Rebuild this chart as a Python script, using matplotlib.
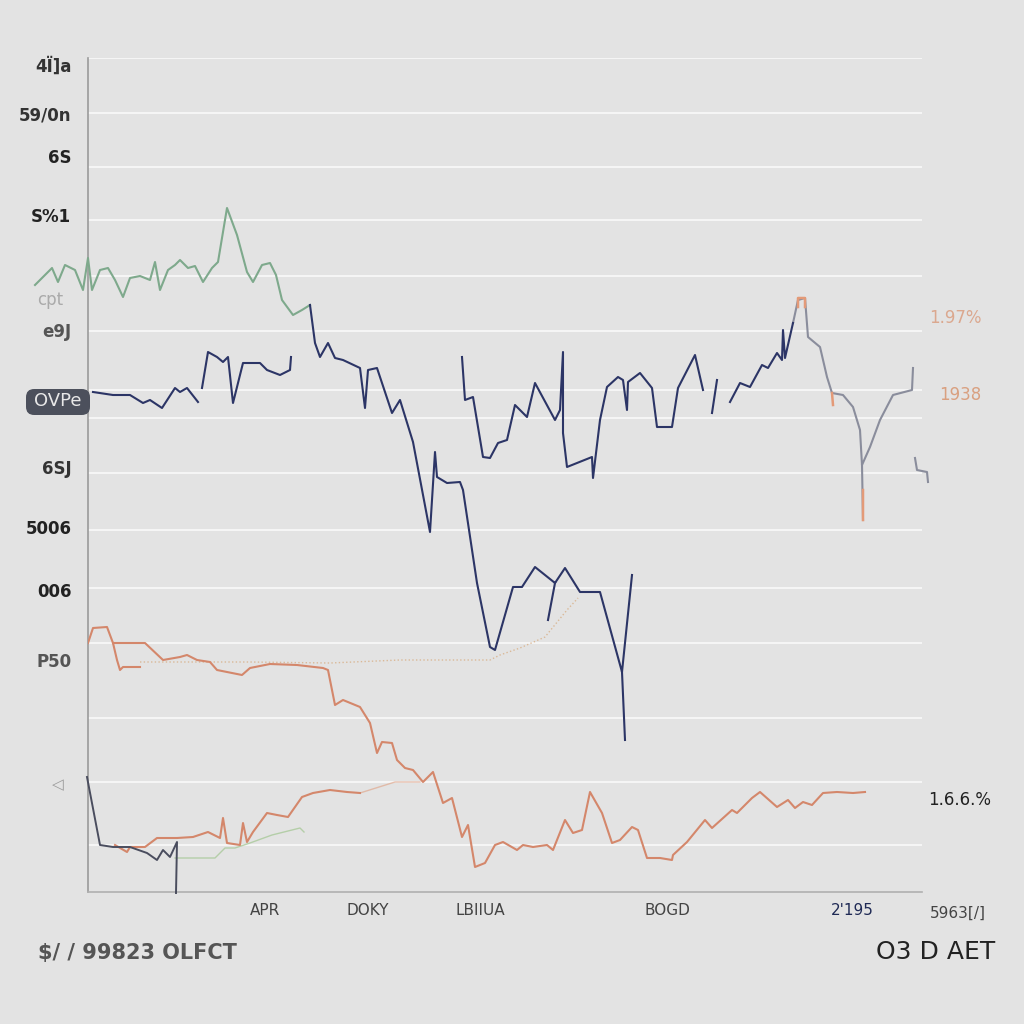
import numpy as np
import matplotlib
matplotlib.use('Agg')
import matplotlib.pyplot as plt
from matplotlib.patches import FancyBboxPatch

nan = np.nan

# green series (upper left)
green_t = [-53, -43, -36, -30, -23, -13, -5, 0, 4, 12, 20, 27, 35, 42, 52, 62, 67, 72, 80, 87,
           92, 100, 107, 115, 124, 130, 139, 149, 159, 165, 174, 182, 188, 194, 205, 214, 222]
green_v = [607, 617, 624, 610, 627, 622, 602, 634, 602, 622, 624, 612, 595, 614, 616, 612, 630, 602, 622, 627,
           632, 624, 626, 610, 624, 630, 684, 657, 620, 610, 627, 629, 617, 592, 577, 582, 587]

# navy series, broken into pieces (nan = gap)
navy_t = [5, 25, 42, 55, 62, 74, 87, 92, 99, 110, nan,
          114, 120, 129, 135, 140, 145, 155, 172, 179, 192, 202, 203, nan,
          222, 227, 232, 240, 247, 255, 272, 277, 280, 289, 304, 312, 325, 342, 347, 349, 359, 372, 375,
          389, 402, 407, 425, 434, 447, 467, 477, 492, 512, 534, 544, nan,
          460, 467, nan, 534, 537, nan,
          374, 377, 385, 395, 402, 410, 419, 427, 439, 447, 467, 472, 475, 475, 479, 489, 504, 505, 512,
          519, 530, 535, 539, 540, 552, 564, 569, 584, 590, 607, 615, nan,
          624, 629, nan,
          642, 652, 662, 674, 680, 689, 694, 695, 697, 705]
navy_v = [500, 497, 497, 489, 492, 484, 504, 500, 504, 490, nan,
          504, 540, 535, 530, 535, 489, 529, 529, 522, 517, 522, 535, nan,
          587, 549, 535, 549, 534, 532, 524, 484, 522, 524, 479, 492, 450, 360, 440, 415, 409, 410, 402,
          309, 245, 242, 305, 305, 325, 309, 324, 300, 300, 220, 317, nan,
          272, 309, nan, 220, 152, nan,
          535, 492, 495, 435, 434, 449, 452, 487, 475, 509, 472, 482, 540, 459, 425, 429, 435, 414, 472,
          505, 515, 512, 482, 510, 519, 504, 465, 465, 504, 537, 502, nan,
          479, 512, nan,
          490, 509, 505, 527, 524, 539, 532, 562, 534, 569]

# grey continuation on the right
grey_t = [705, 710, 717, 720, 732, 739, 744, 755, 765, 772, 774, 782, 792, 805, 824, 825, nan,
          774, 775, nan, 827, 829, 839, 840]
grey_v = [569, 592, 594, 555, 545, 515, 499, 497, 485, 462, 427, 445, 472, 497, 502, 524, nan,
          427, 372, nan, 434, 422, 420, 410]

# navy lower left
navy2_t = [-1, 12, 25, 42, 59, 69, 75, 82, 89, 88]
navy2_v = [115, 47, 45, 45, 39, 32, 42, 35, 50, -1]

# orange series (upper, falling)
or1_t = [0, 5, 19, 25, 29, 32, 35, 52, nan,
         25, 57, 75, 92, 99, 109, 122, 129, 154, 162, 182, 209, 235, 240, 247, 255, 272, 282, 289, 294,
         304, 309, 317, 325, 335, 345, 355, 364, 374, 380, 387, 397, 407, 415, 429, 435, 445, 459, 465,
         477, 485, 494, 502, 514, 524, 532, 544, 550, 559, 572, 584, 585, 599, 617, 624, 644, 649, 664,
         672, 689, 700, 707, 715, 724, 735, 749, 765, 777]
or1_v = [249, 264, 265, 249, 232, 222, 225, 225, nan,
         249, 249, 232, 235, 237, 232, 230, 222, 217, 224, 228, 227, 224, 222, 187, 192, 185, 169, 139, 150,
         149, 132, 124, 122, 110, 120, 89, 94, 55, 67, 25, 29, 47, 50, 42, 47, 45, 47, 42,
         72, 59, 62, 100, 79, 49, 52, 65, 62, 34, 34, 32, 37, 50, 72, 64, 82, 79, 94,
         100, 85, 92, 84, 90, 87, 99, 100, 99, 100]

# orange series (lower left, rising)
or2_t = [27, 39, 42, 57, 69, 89, 105, 120, 132, 135, 139, 152, 155, 159, 165, 179, 189, 200, 214, 225, 242, 259, 272]
or2_v = [47, 40, 45, 45, 54, 54, 55, 60, 54, 74, 49, 47, 69, 50, 60, 79, 77, 75, 95, 99, 102, 100, 99]
or2_faint_t = [272, 307, 332]
or2_faint_v = [99, 110, 110]

# faint dotted tan trace
dot_t = [52, 162, 242, 312, 372, 402, 412, 432, 457, 479, 490]
dot_v = [230, 230, 229, 232, 232, 232, 237, 244, 255, 282, 294]

# faint green trace lower left
g2_t = [87, 112, 127, 137, 147, 162, 184, 212, 216]
g2_v = [34, 34, 34, 44, 44, 49, 57, 64, 60]

# orange accents on grey line
acc_t = [710, 710, 717, 717, nan, 744, 745, nan, 775, 775]
acc_v = [585, 594, 594, 585, nan, 499, 487, nan, 402, 372]

grid_v = [834, 779, 725, 672, 616, 561, 502, 474, 419, 362, 304, 249, 174, 110, 47]

ytick_v = [827, 779, 736, 677, 562, 425, 365, 302, 232]
ytick_lab = ['4Ï]a', '59/0n', '6S', 'S%1', 'e9J', '6SJ', '5006', '006', 'P50']
ytick_col = ['#333', '#333', '#222', '#222', '#555', '#333', '#222', '#222', '#555']

xtick_t = [177, 280, 392, 579, 764]
xtick_lab = ['APR', 'DOKY', 'LBIIUA', 'BOGD', "2'195"]

bg = '#e3e3e3'
navy = '#2c3566'
green = '#7ea98c'
orange = '#d4876b'

fig = plt.figure(figsize=(10.24, 10.24), dpi=100, facecolor=bg)
ax = fig.add_axes([88/1024, 132/1024, 834/1024, 834/1024], facecolor=bg)
ax.set_xlim(0, 834)
ax.set_ylim(0, 834)

for v in grid_v:
    ax.axhline(v, color='#f7f7f7', lw=1.3, zorder=0)

ax.plot(dot_t, dot_v, color='#d9b48f', lw=1.0, ls=':', alpha=0.9, zorder=1)
ax.plot(g2_t, g2_v, color='#a9c99a', lw=1.0, alpha=0.8, zorder=1)
ax.plot(or2_faint_t, or2_faint_v, color='#e0a98f', lw=1.0, alpha=0.7, zorder=1)
ax.plot(green_t, green_v, color=green, lw=1.5, clip_on=False, zorder=3)
ax.plot(or1_t, or1_v, color=orange, lw=1.5, zorder=3)
ax.plot(or2_t, or2_v, color=orange, lw=1.5, zorder=3)
ax.plot(navy_t, navy_v, color=navy, lw=1.5, zorder=4)
ax.plot(grey_t, grey_v, color='#8a8d9c', lw=1.5, clip_on=False, zorder=3)
ax.plot(navy2_t, navy2_v, color='#4a4d5e', lw=1.4, clip_on=False, zorder=3)
ax.plot(acc_t, acc_v, color='#e39a78', lw=1.8, zorder=5)

for s in ['top', 'right']:
    ax.spines[s].set_visible(False)
ax.spines['left'].set_color('#9a9a9a')
ax.spines['bottom'].set_color('#b0b0b0')
ax.spines['left'].set_linewidth(1.2)
ax.spines['bottom'].set_linewidth(1.2)

ax.set_yticks(ytick_v)
ax.set_yticklabels(ytick_lab, fontsize=12, fontweight='bold')
for lab, c in zip(ax.get_yticklabels(), ytick_col):
    lab.set_color(c)
ax.tick_params(axis='y', length=0, pad=12)

ax.set_xticks(xtick_t)
ax.set_xticklabels(xtick_lab, fontsize=11, family=['Liberation Sans Narrow', 'DejaVu Sans'])
for lab in ax.get_xticklabels():
    lab.set_color('#444')
ax.get_xticklabels()[-1].set_color('#1f2a55')
ax.tick_params(axis='x', length=0, pad=8)

ax.text(870, -14, '5963[/]', fontsize=11, color='#444', ha='center', va='top', clip_on=False,
        family=['Liberation Sans Narrow', 'DejaVu Sans'])

# right side labels
ax.text(867, 574, '1.97%', fontsize=12, color='#dba88f', ha='center', va='center', clip_on=False)
ax.text(872, 497, '1938', fontsize=12, color='#d9a080', ha='center', va='center', clip_on=False)
ax.text(872, 92, '1.6.6.%', fontsize=12, color='#222', ha='center', va='center', clip_on=False)

# dark badge on the left
fig.patches.append(FancyBboxPatch((26/1024, (1024-415)/1024), 64/1024, 26/1024,
                                  boxstyle='round,pad=0,rounding_size=0.008',
                                  transform=fig.transFigure, facecolor='#4c505c', edgecolor='none'))
fig.text(58/1024, 1-401/1024, 'OVPe', fontsize=13, color='#e8e8e8', ha='center', va='center')

# faint left labels
fig.text(50/1024, 1-300/1024, 'cpt', fontsize=12, color='#aaaaaa', ha='center', va='center')
fig.text(58/1024, 1-785/1024, '◁', fontsize=11, color='#999999', ha='center', va='center')

fig.text(38/1024, 1-953/1024, '$/ / 99823 OLFCT', fontsize=15, fontweight='bold', color='#555',
         ha='left', va='center')
fig.text(995/1024, 1-952/1024, 'O3 D AET', fontsize=18, color='#222', ha='right', va='center')

fig.savefig('out.png', dpi=100, facecolor=bg)
